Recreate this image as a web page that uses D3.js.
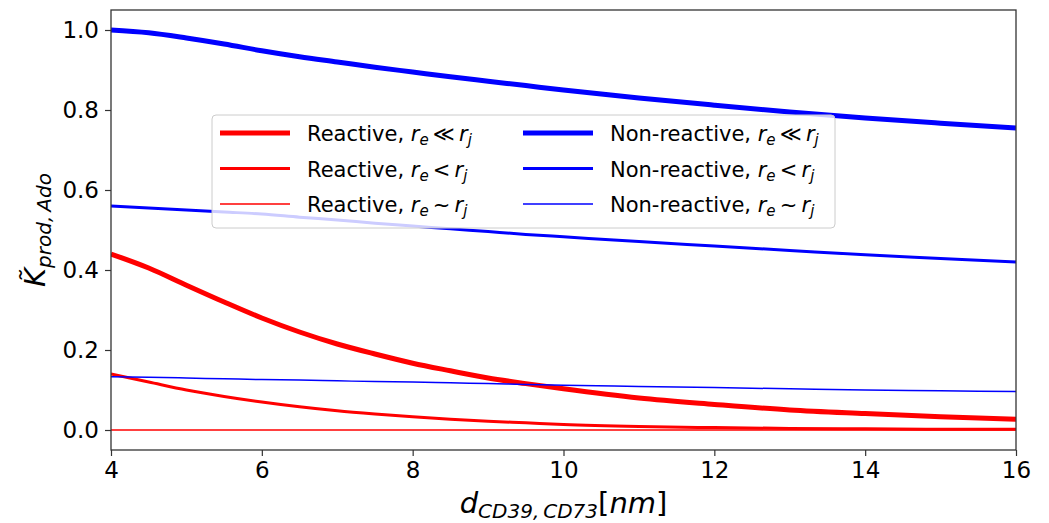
<!DOCTYPE html>
<html>
<head>
<meta charset="utf-8">
<script src="https://cdn.jsdelivr.net/npm/d3@7/dist/d3.min.js"></script>
<style>
  body { margin: 0; background: #fff; }
  svg text { font-family: "DejaVu Sans", sans-serif; fill: #000; }
</style>
</head>
<body>
<svg id="chart"></svg>
<script>
// distances in nm
const xs = [4, 4.5, 5, 5.5, 6, 6.5, 7, 7.5, 8, 8.5, 9, 9.5, 10, 11, 12, 13, 14, 15, 16];

// Non-reactive
const blueThick = [1.0, 0.993, 0.98, 0.965, 0.948, 0.933, 0.92, 0.907, 0.895, 0.883, 0.872, 0.861, 0.85, 0.83, 0.812, 0.795, 0.78, 0.767, 0.755];
const blueMid = [0.56, 0.555, 0.55, 0.545, 0.54, 0.532, 0.525, 0.517, 0.51, 0.503, 0.496, 0.489, 0.483, 0.471, 0.46, 0.449, 0.438, 0.429, 0.42];
const blueThin = [0.133, 0.132, 0.13, 0.128, 0.126, 0.125, 0.123, 0.121, 0.12, 0.118, 0.116, 0.114, 0.112, 0.109, 0.106, 0.103, 0.1, 0.098, 0.096];

// Reactive
const redThick = [0.44, 0.405, 0.362, 0.32, 0.28, 0.245, 0.215, 0.19, 0.167, 0.148, 0.13, 0.116, 0.103, 0.08, 0.064, 0.05, 0.041, 0.033, 0.027];
const redMid = [0.14, 0.12, 0.1, 0.084, 0.07, 0.058, 0.048, 0.04, 0.033, 0.027, 0.022, 0.018, 0.014, 0.009, 0.006, 0.004, 0.003, 0.002, 0.002];
const redThin = [0, 0, 0, 0, 0, 0, 0, 0, 0, 0, 0, 0, 0, 0, 0, 0, 0, 0, 0];

const xTicks = [4, 6, 8, 10, 12, 14, 16];
const yTicks = [0.0, 0.2, 0.4, 0.6, 0.8, 1.0];

const series = [
  {name: "Reactive", rel: "\u226A", values: redThick, color: "#ff0000", width: 5},
  {name: "Reactive", rel: "<", values: redMid, color: "#ff0000", width: 3},
  {name: "Reactive", rel: "~", values: redThin, color: "#ff0000", width: 1.5},
  {name: "Non-reactive", rel: "\u226A", values: blueThick, color: "#0000ff", width: 5},
  {name: "Non-reactive", rel: "<", values: blueMid, color: "#0000ff", width: 3},
  {name: "Non-reactive", rel: "~", values: blueThin, color: "#0000ff", width: 1.5}
];

const W = 1049, H = 523;
const margin = {top: 10, right: 33, bottom: 73, left: 111};
const width = W - margin.left - margin.right;
const height = H - margin.top - margin.bottom;

const svg = d3.select("#chart").attr("width", W).attr("height", H);
const chart = svg.append("g").attr("transform", `translate(${margin.left},${margin.top})`);

const xScale = d3.scaleLinear().domain([4, 16]).range([0, width]);
const yScale = d3.scaleLinear().domain([-0.05, 1.05]).range([height, 0]);

chart.append("defs").append("clipPath").attr("id", "clip")
  .append("rect").attr("width", width).attr("height", height);

const line = d3.line()
  .x((d, i) => xScale(xs[i]))
  .y(d => yScale(d))
  .curve(d3.curveMonotoneX);

// plot lines: reactive first, then non-reactive
const lineG = chart.append("g").attr("clip-path", "url(#clip)");
lineG.selectAll(".series")
  .data(series)
  .join("path")
  .attr("class", "series")
  .attr("fill", "none")
  .attr("stroke", d => d.color)
  .attr("stroke-width", d => d.width)
  .attr("d", d => line(d.values));

// axes
const xAxis = d3.axisBottom(xScale).tickValues(xTicks).tickSize(6).tickPadding(6).tickFormat(d3.format("d"));
const yAxis = d3.axisLeft(yScale).tickValues(yTicks).tickSize(6).tickPadding(6).tickFormat(d3.format(".1f"));

chart.append("g").attr("transform", `translate(0,${height})`).call(xAxis)
  .call(g => g.select(".domain").remove())
  .call(g => g.selectAll("line").attr("stroke", "#333").attr("stroke-width", 1.2))
  .call(g => g.selectAll("text").attr("font-size", 23).attr("font-family", "DejaVu Sans").attr("fill", "#000"));

chart.append("g").call(yAxis)
  .call(g => g.select(".domain").remove())
  .call(g => g.selectAll("line").attr("stroke", "#333").attr("stroke-width", 1.2))
  .call(g => g.selectAll("text").attr("font-size", 23).attr("font-family", "DejaVu Sans").attr("fill", "#000"));

// frame
chart.append("rect")
  .attr("width", width).attr("height", height)
  .attr("fill", "none").attr("stroke", "#333").attr("stroke-width", 1.3);

// legend
const legend = chart.append("g").attr("transform", "translate(101,105)");
legend.append("rect")
  .attr("width", 623).attr("height", 113).attr("rx", 4)
  .attr("fill", "#fff").attr("fill-opacity", 0.8)
  .attr("stroke", "#ccc").attr("stroke-width", 1);

series.forEach((s, i) => {
  const col = i < 3 ? 0 : 1;
  const row = i % 3;
  const gx = col === 0 ? 8 : 311;
  const gy = 18 + row * 35.5;
  const g = legend.append("g").attr("transform", `translate(${gx},${gy})`);
  g.append("line").attr("x1", 0).attr("x2", 70).attr("y1", 0).attr("y2", 0)
    .attr("stroke", s.color).attr("stroke-width", s.width);
  const t = g.append("text").attr("x", 87).attr("y", 8).attr("font-size", 21);
  t.append("tspan").text(s.name + ", ");
  t.append("tspan").attr("font-style", "italic").text("r");
  t.append("tspan").attr("font-size", 15).attr("dy", 4).attr("font-style", "italic").text("e");
  t.append("tspan").attr("dy", -4).text("\u2009" + s.rel + "\u2009");
  t.append("tspan").attr("font-style", "italic").text("r");
  t.append("tspan").attr("font-size", 15).attr("dy", 4).attr("font-style", "italic").text("j");
});

// x axis title
const xt = svg.append("text")
  .attr("x", margin.left + width / 2).attr("y", 513)
  .attr("text-anchor", "middle").attr("font-size", 29);
xt.append("tspan").attr("font-style", "italic").text("d");
xt.append("tspan").attr("font-style", "italic").attr("font-size", 20).attr("dy", 5).text("CD39,\u2009CD73");
xt.append("tspan").attr("dy", -5).text("[");
xt.append("tspan").attr("font-style", "italic").text("nm");
xt.append("tspan").text("]");

// y axis title
const yt = svg.append("text")
  .attr("transform", `translate(45,${margin.top + height / 2}) rotate(-90)`)
  .attr("text-anchor", "middle").attr("font-size", 29);
yt.append("tspan").attr("font-style", "italic").text("K\u0303");
yt.append("tspan").attr("font-style", "italic").attr("font-size", 20).attr("dy", 6).text("prod,\u2009Ado");
</script>
</body>
</html>
